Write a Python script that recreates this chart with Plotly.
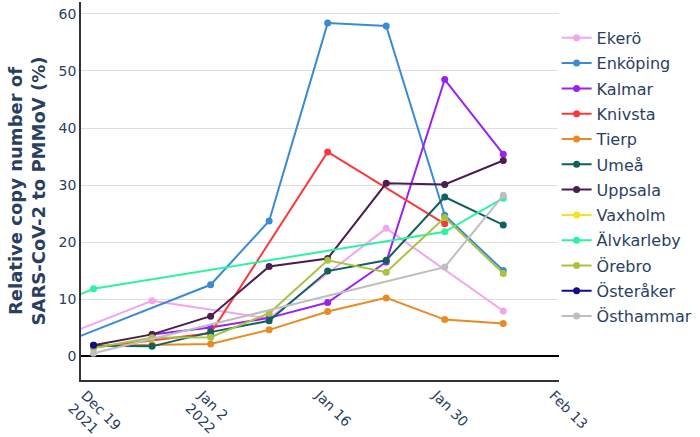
import plotly.graph_objects as go

dates = ["2021-12-13", "2021-12-20", "2021-12-27", "2022-01-03", "2022-01-10",
         "2022-01-17", "2022-01-24", "2022-01-31", "2022-02-07"]

names = ["Ekerö", "Enköping", "Kalmar", "Knivsta", "Tierp", "Umeå", "Uppsala",
         "Vaxholm", "Älvkarleby", "Örebro", "Österåker", "Östhammar"]

ekero      = [1.6, None, 9.7, None, 6.6, None, 22.4, None, 7.9]
enkoping   = [0.4, None, None, 12.5, 23.7, 58.4, 57.9, 24.7, 15.0]
kalmar     = [None, None, 3.8, 5.0, 6.7, 9.4, 16.5, 48.5, 35.4]
knivsta    = [None, 1.5, None, 4.0, None, 35.8, None, 23.2, None]
tierp      = [None, 1.8, 2.0, 2.1, 4.6, 7.8, 10.2, 6.4, 5.7]
umea       = [None, 1.8, 1.7, 4.2, 6.2, 14.9, 16.8, 27.9, 23.0]
uppsala    = [None, 1.9, 3.8, 7.0, 15.7, 17.1, 30.3, 30.1, 34.3]
vaxholm    = [None, 1.5, None, None, None, None, None, None, None]
alvkarleby = [7.5, 11.8, None, None, None, None, None, 21.8, 27.7]
orebro     = [None, 1.4, 3.2, 3.3, 7.5, 16.8, 14.7, 24.3, 14.5]
osteraker  = [None, 1.9, None, None, None, None, None, None, None]
osthammar  = [None, 0.5, None, None, None, None, None, 15.6, 28.2]

series = [ekero, enkoping, kalmar, knivsta, tierp, umea, uppsala, vaxholm,
          alvkarleby, orebro, osteraker, osthammar]

colors = ["#F4A4EC", "#3A8BD2", "#9B22EE", "#FA3A3A", "#EA8A25", "#10605D",
          "#4B1D50", "#F8E21C", "#2EF2A2", "#A7C33F", "#120D80", "#BEBEBE"]

fig = go.Figure()
for name, vals, col in zip(names, series, colors):
    fig.add_trace(go.Scatter(
        x=dates, y=vals, name=name, mode="lines+markers",
        connectgaps=True, legendgroup=name,
        line=dict(color=col, width=2),
        marker=dict(color=col, size=7),
    ))

font_family = "DejaVu Sans"
fig.update_layout(
    width=700, height=437,
    template="plotly_white",
    paper_bgcolor="white", plot_bgcolor="white",
    margin=dict(l=81, r=137, t=2, b=57),
    font=dict(family=font_family, color="#2a3f5f", size=14),
    legend=dict(x=0.995, y=0.95, xanchor="left", yanchor="top",
                tracegroupgap=1.5,
                font=dict(size=16, family=font_family, color="#2a3f5f")),
    xaxis=dict(
        type="date",
        range=["2021-12-18 12:00", "2022-02-13 16:00"],
        tick0="2021-12-19", dtick=14 * 86400000,
        tickangle=45,
        showgrid=False,
        showline=True, linecolor="#333333", linewidth=1.5,
        tickfont=dict(size=14),
        zeroline=False, automargin=False,
    ),
    yaxis=dict(
        range=[-4.2, 62.1],
        dtick=10,
        showgrid=True, gridcolor="#dddddd",
        showline=True, linecolor="#333333", linewidth=1.5,
        zeroline=True, zerolinecolor="black", zerolinewidth=2,
        tickfont=dict(size=14), automargin=False,
        title=dict(text="<b>Relative copy number of<br>SARS-CoV-2 to PMMoV (%)</b>",
                   font=dict(size=18, family=font_family, color="#2a3f5f"),
                   standoff=8),
    ),
)

fig.write_html("out.html")
